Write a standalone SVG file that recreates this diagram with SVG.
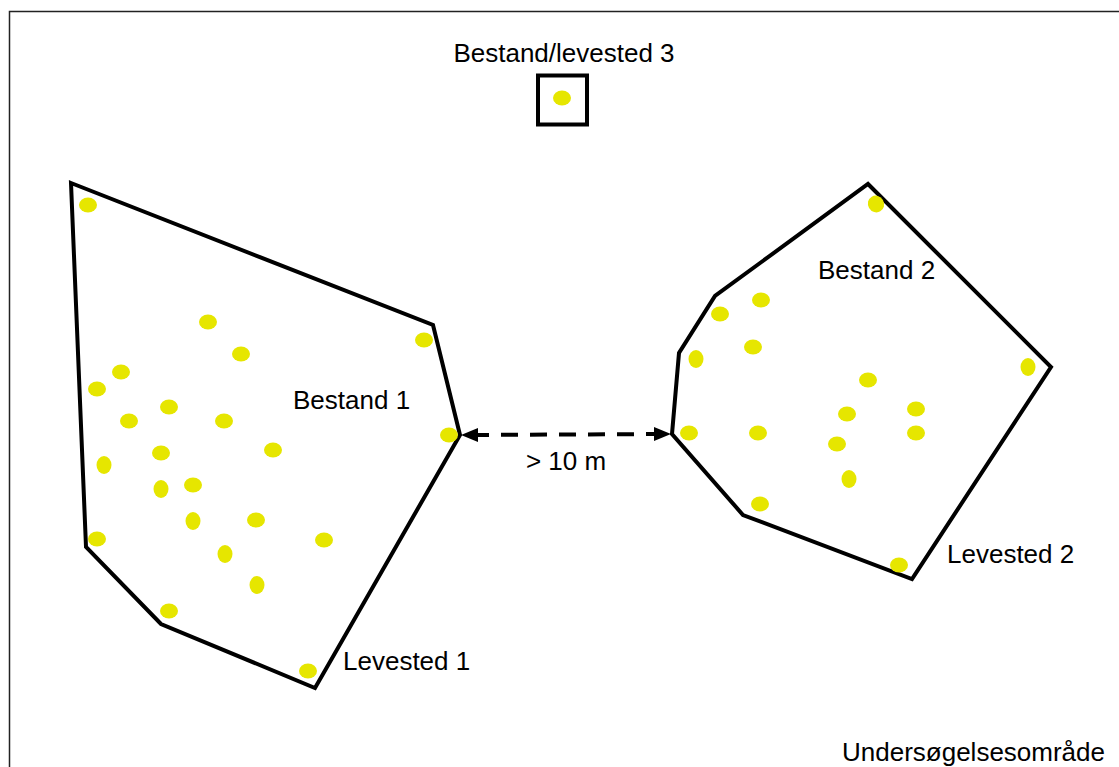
<svg xmlns="http://www.w3.org/2000/svg" width="1119" height="767" viewBox="0 0 1119 767">
  <style>
    .area { fill: none; stroke: #000; stroke-width: 4; stroke-linejoin: miter; }
    .dot { fill: #E6E600; }
    .lbl { font-family: "Liberation Sans", Arial, sans-serif; font-size: 26px; fill: #000; }
    .dist { stroke: #000; stroke-width: 4; stroke-dasharray: 17 12; fill: none; }
    .head { fill: #000; }
  </style>
  <rect width="1119" height="767" fill="#fff"/>

  <!-- survey area frame -->
  <g id="survey-area">
    <rect x="9.5" y="11.5" width="1200" height="800" fill="none" stroke="#222" stroke-width="1.5"/>
    <text class="lbl" x="1105" y="761" text-anchor="end">Undersøgelsesområde</text>
  </g>

  <!-- population / habitat 3 -->
  <g id="bestand3">
    <text class="lbl" x="564" y="62" text-anchor="middle">Bestand/levested 3</text>
    <rect class="area" x="538" y="75.5" width="49" height="49"/>
    <ellipse class="dot" cx="562" cy="98" rx="9" ry="7.5"/>
  </g>

  <!-- population 1 -->
  <g id="bestand1">
    <polygon class="area" points="71,183 433,325 460,435 315,688 161,624 86,547"/>
    <g>
      <ellipse class="dot" cx="88" cy="205" rx="9" ry="7.5"/>
      <ellipse class="dot" cx="424" cy="340" rx="9" ry="7.5"/>
      <ellipse class="dot" cx="449" cy="435" rx="9" ry="7.5"/>
      <ellipse class="dot" cx="208" cy="322" rx="9" ry="7.5"/>
      <ellipse class="dot" cx="241" cy="354" rx="9" ry="7.5"/>
      <ellipse class="dot" cx="121" cy="372" rx="9" ry="7.5"/>
      <ellipse class="dot" cx="97" cy="389" rx="9" ry="7.5"/>
      <ellipse class="dot" cx="129" cy="421" rx="9" ry="7.5"/>
      <ellipse class="dot" cx="169" cy="407" rx="9" ry="7.5"/>
      <ellipse class="dot" cx="224" cy="421" rx="9" ry="7.5"/>
      <ellipse class="dot" cx="273" cy="450" rx="9" ry="7.5"/>
      <ellipse class="dot" cx="161" cy="453" rx="9" ry="7.5"/>
      <ellipse class="dot" cx="104" cy="465" rx="7.5" ry="9"/>
      <ellipse class="dot" cx="161" cy="489" rx="7.5" ry="9"/>
      <ellipse class="dot" cx="193" cy="485" rx="9" ry="7.5"/>
      <ellipse class="dot" cx="193" cy="521" rx="7.5" ry="9"/>
      <ellipse class="dot" cx="256" cy="520" rx="9" ry="7.5"/>
      <ellipse class="dot" cx="97" cy="539" rx="9" ry="7.5"/>
      <ellipse class="dot" cx="324" cy="540" rx="9" ry="7.5"/>
      <ellipse class="dot" cx="225" cy="554" rx="7.5" ry="9"/>
      <ellipse class="dot" cx="257" cy="585" rx="7.5" ry="9"/>
      <ellipse class="dot" cx="169" cy="611" rx="9" ry="7.5"/>
      <ellipse class="dot" cx="308" cy="671" rx="9" ry="7.5"/>
    </g>
    <text class="lbl" x="293" y="409">Bestand 1</text>
    <text class="lbl" x="343" y="670">Levested 1</text>
  </g>

  <!-- population 2 -->
  <g id="bestand2">
    <polygon class="area" points="868,184 1051,367 912,579 743,515 672,434 679,353 715,296"/>
    <g>
      <ellipse class="dot" cx="876" cy="204" rx="8" ry="8.5" transform="rotate(-30 876 204)"/>
      <ellipse class="dot" cx="761" cy="300" rx="9" ry="7.5"/>
      <ellipse class="dot" cx="720" cy="314" rx="9" ry="7.5"/>
      <ellipse class="dot" cx="696" cy="359" rx="7.5" ry="9"/>
      <ellipse class="dot" cx="753" cy="347" rx="9" ry="7.5"/>
      <ellipse class="dot" cx="1028" cy="367" rx="7.5" ry="9"/>
      <ellipse class="dot" cx="868" cy="380" rx="9" ry="7.5"/>
      <ellipse class="dot" cx="847" cy="414" rx="9" ry="7.5"/>
      <ellipse class="dot" cx="916" cy="409" rx="9" ry="7.5"/>
      <ellipse class="dot" cx="916" cy="433" rx="9" ry="7.5"/>
      <ellipse class="dot" cx="689" cy="433" rx="9" ry="7.5"/>
      <ellipse class="dot" cx="758" cy="433" rx="9" ry="7.5"/>
      <ellipse class="dot" cx="837" cy="444" rx="9" ry="7.5"/>
      <ellipse class="dot" cx="849" cy="479" rx="7.5" ry="9"/>
      <ellipse class="dot" cx="760" cy="504" rx="9" ry="7.5"/>
      <ellipse class="dot" cx="899" cy="565" rx="9" ry="7.5"/>
    </g>
    <text class="lbl" x="818" y="279">Bestand 2</text>
    <text class="lbl" x="947" y="563">Levested 2</text>
  </g>

  <!-- distance between populations -->
  <g id="connectors">
    <line class="dist" x1="472" y1="435" x2="660" y2="434"/>
    <polygon class="head" points="461,435 478,428 478,442"/>
    <polygon class="head" points="671,434 654,427 654,441"/>
    <text class="lbl" x="566" y="470" text-anchor="middle">&gt; 10 m</text>
  </g>
</svg>
